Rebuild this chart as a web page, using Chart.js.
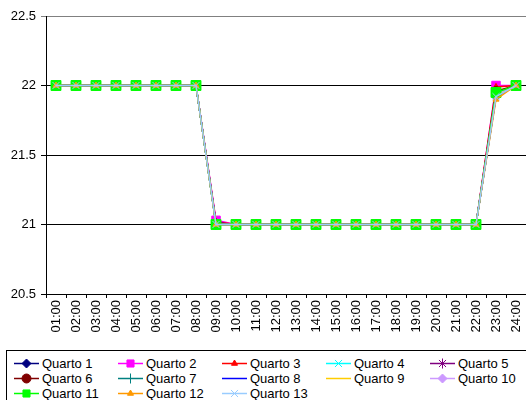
<!DOCTYPE html>
<html>
<head>
    <title>Quartos</title>
    <style>
        body {
            margin: 0;
            background-color: #fff;
            font-family: Arial, "Liberation Sans", sans-serif;
        }

        #wrap {
            position: relative;
            width: 526px;
            height: 400px;
            overflow: hidden;
        }

        #box {
            position: absolute;
            left: 0;
            top: 0;
            width: 534px;
            height: 344px;
        }

        #legend {
            position: absolute;
            left: 6px;
            top: 350px;
            width: 540px;
            height: 60px;
            border: 1px solid #000;
            box-sizing: border-box;
            padding-top: 5px;
        }

        .item {
            position: absolute;
            height: 15px;
            line-height: 15px;
            font-size: 13px;
            color: #000;
            white-space: nowrap;
        }

        .item canvas {
            position: absolute;
            left: 0;
            top: 0;
        }

        .item span {
            position: absolute;
            left: 28px;
            top: 0;
        }
    </style>
    <script src="https://cdn.jsdelivr.net/npm/chart.js"></script>
</head>
<body>
<div id="wrap">
    <div id="box"><canvas id="chart"></canvas></div>
    <div id="legend"></div>
</div>
<script>
    var hours = ['01:00', '02:00', '03:00', '04:00', '05:00', '06:00', '07:00', '08:00',
                 '09:00', '10:00', '11:00', '12:00', '13:00', '14:00', '15:00', '16:00',
                 '17:00', '18:00', '19:00', '20:00', '21:00', '22:00', '23:00', '24:00'];

    var yTicks = [20.5, 21, 21.5, 22, 22.5];

    var quarto1  = [22, 22, 22, 22, 22, 22, 22, 22, 21, 21, 21, 21, 21, 21, 21, 21, 21, 21, 21, 21, 21, 21, 21.92, 22];
    var quarto2  = [22, 22, 22, 22, 22, 22, 22, 22, 21.03, 21, 21, 21, 21, 21, 21, 21, 21, 21, 21, 21, 21, 21, 22, 22];
    var quarto3  = [22, 22, 22, 22, 22, 22, 22, 22, 21.02, 21, 21, 21, 21, 21, 21, 21, 21, 21, 21, 21, 21, 21, 21.99, 22];
    var quarto4  = [22, 22, 22, 22, 22, 22, 22, 22, 21, 21, 21, 21, 21, 21, 21, 21, 21, 21, 21, 21, 21, 21, 21.93, 22];
    var quarto5  = [22, 22, 22, 22, 22, 22, 22, 22, 21.01, 21, 21, 21, 21, 21, 21, 21, 21, 21, 21, 21, 21, 21, 21.95, 22];
    var quarto6  = [22, 22, 22, 22, 22, 22, 22, 22, 21, 21, 21, 21, 21, 21, 21, 21, 21, 21, 21, 21, 21, 21, 21.96, 22];
    var quarto7  = [22, 22, 22, 22, 22, 22, 22, 22, 21, 21, 21, 21, 21, 21, 21, 21, 21, 21, 21, 21, 21, 21, 21.93, 22];
    var quarto8  = [22, 22, 22, 22, 22, 22, 22, 22, 21.01, 21, 21, 21, 21, 21, 21, 21, 21, 21, 21, 21, 21, 21, 21.92, 22];
    var quarto9  = [22, 22, 22, 22, 22, 22, 22, 22, 21, 21, 21, 21, 21, 21, 21, 21, 21, 21, 21, 21, 21, 21, 21.93, 22];
    var quarto10 = [22, 22, 22, 22, 22, 22, 22, 22, 21, 21, 21, 21, 21, 21, 21, 21, 21, 21, 21, 21, 21, 21, 21.94, 22];
    var quarto11 = [22, 22, 22, 22, 22, 22, 22, 22, 21, 21, 21, 21, 21, 21, 21, 21, 21, 21, 21, 21, 21, 21, 21.95, 22];
    var quarto12 = [22, 22, 22, 22, 22, 22, 22, 22, 21, 21, 21, 21, 21, 21, 21, 21, 21, 21, 21, 21, 21, 21, 21.9, 22];
    var quarto13 = [22, 22, 22, 22, 22, 22, 22, 22, 21, 21, 21, 21, 21, 21, 21, 21, 21, 21, 21, 21, 21, 21, 21.92, 22];

    var names  = ['Quarto 1', 'Quarto 2', 'Quarto 3', 'Quarto 4', 'Quarto 5', 'Quarto 6', 'Quarto 7',
                  'Quarto 8', 'Quarto 9', 'Quarto 10', 'Quarto 11', 'Quarto 12', 'Quarto 13'];
    var series = [quarto1, quarto2, quarto3, quarto4, quarto5, quarto6, quarto7,
                  quarto8, quarto9, quarto10, quarto11, quarto12, quarto13];

    // colour, marker, marker size for each room
    var colors = ['#000080', '#FF00FF', '#FF0000', '#00FFFF', '#800080', '#800000', '#008080',
                  '#0000FF', '#FFCC00', '#CC99FF', '#00FF00', '#FF9900', '#99CCFF'];
    var markers = ['rectRot', 'rect', 'triangle', 'crossRot', 'star', 'circle', 'cross',
                   'line', 'line', 'rectRot', 'rect', 'triangle', 'crossRot'];
    var sizes = [4.5, 6, 3.5, 5, 5, 4.5, 5, 3, 3, 4.5, 7, 3.5, 5];

    var datasets = [];
    for (var i = 0; i < series.length; i++) {
        datasets.push({
            label: names[i],
            data: series[i],
            borderColor: colors[i],
            backgroundColor: colors[i],
            pointBorderColor: colors[i],
            pointBackgroundColor: colors[i],
            pointStyle: markers[i],
            pointRadius: sizes[i],
            pointHoverRadius: sizes[i],
            pointBorderWidth: 1,
            borderWidth: 1.5,
            tension: 0,
            order: series.length - i // later rooms drawn on top
        });
    }

    var chart = new Chart(document.getElementById('chart'), {
        type: 'line',
        data: { labels: hours, datasets: datasets },
        options: {
            responsive: true,
            maintainAspectRatio: false,
            animation: false,
            layout: { padding: { top: 16, left: 0, right: 0, bottom: 0 } },
            plugins: {
                legend: { display: false },
                tooltip: { enabled: false },
                title: { display: false }
            },
            scales: {
                x: {
                    offset: true,
                    grid: {
                        offset: true,
                        drawOnChartArea: false,
                        color: '#000',
                        tickLength: 4
                    },
                    border: { color: '#000', width: 1 },
                    ticks: {
                        color: '#000',
                        font: { family: 'Arial', size: 13 },
                        maxRotation: 90,
                        minRotation: 90,
                        autoSkip: false,
                        padding: 2
                    },
                    afterFit: function(scale) { scale.height = 50; }
                },
                y: {
                    min: yTicks[0],
                    max: yTicks[yTicks.length - 1],
                    afterBuildTicks: function(scale) {
                        scale.ticks = yTicks.map(function(v) { return { value: v }; });
                    },
                    grid: {
                        color: function(ctx) {
                            return ctx.tick && ctx.tick.value === 22.5 ? '#808080' : '#000';
                        },
                        tickLength: 5
                    },
                    border: { color: '#000', width: 1 },
                    ticks: {
                        color: '#000',
                        font: { family: 'Arial', size: 13 },
                        padding: 5,
                        callback: function(v) { return String(v); }
                    },
                    afterFit: function(scale) { scale.width = 46; }
                }
            }
        }
    });

    // legend in five columns like the original
    var legend = document.getElementById('legend');
    for (var j = 0; j < names.length; j++) {
        var item = document.createElement('div');
        item.className = 'item';
        item.style.left = (7 + (j % 5) * 104) + 'px';
        item.style.top = (5 + Math.floor(j / 5) * 15) + 'px';

        var c = document.createElement('canvas');
        c.width = 26;
        c.height = 15;
        var ctx = c.getContext('2d');
        ctx.strokeStyle = colors[j];
        ctx.fillStyle = colors[j];
        ctx.lineWidth = 1.5;
        ctx.beginPath();
        ctx.moveTo(0, 7.5);
        ctx.lineTo(25, 7.5);
        ctx.stroke();
        ctx.lineWidth = 1;
        Chart.helpers.drawPoint(ctx, {
            pointStyle: markers[j],
            radius: Math.min(sizes[j], 5),
            rotation: 0,
            borderWidth: 1
        }, 12.5, 7.5);

        var span = document.createElement('span');
        span.textContent = names[j];
        item.appendChild(c);
        item.appendChild(span);
        legend.appendChild(item);
    }
</script>
</body>
</html>
